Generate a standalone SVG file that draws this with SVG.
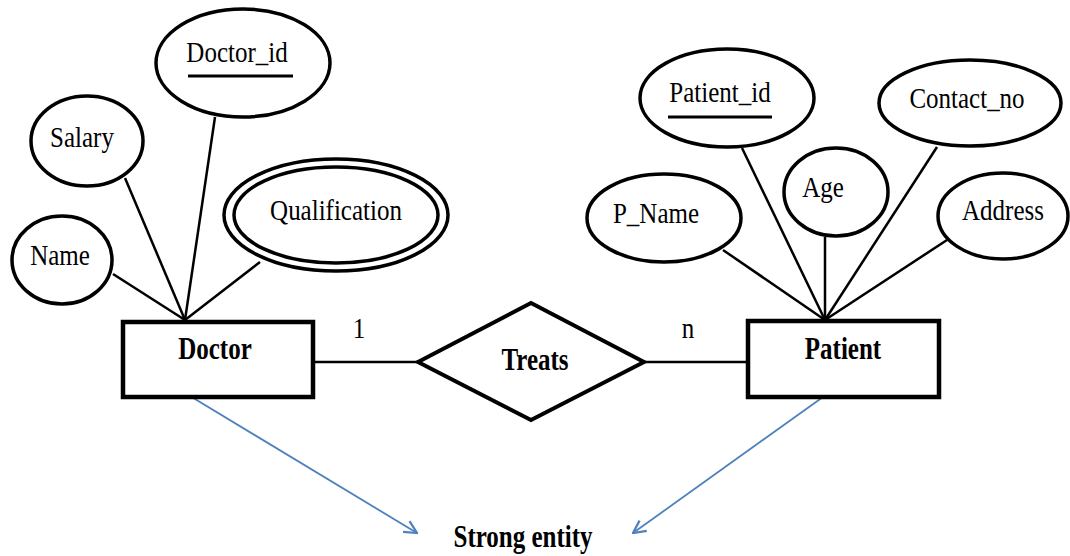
<svg xmlns="http://www.w3.org/2000/svg" width="1070" height="556" viewBox="0 0 1070 556">
  <style>
    .attr { fill: #fff; stroke: #000; stroke-width: 3.5; }
    .entity { fill: #fff; stroke: #000; stroke-width: 4.5; }
    .rel { fill: #fff; stroke: #000; stroke-width: 4; stroke-linejoin: miter; }
    .link { stroke: #000; stroke-width: 2.5; fill: none; }
    .note { stroke: #4f81bd; stroke-width: 1.8; fill: none; }
    .key { stroke: #000; stroke-width: 3; }
    .lbl { font-family: "Liberation Serif", "Times New Roman", Times, serif; font-size: 25px; fill: #000; text-anchor: middle; }
    .bold { font-weight: bold; }
  </style>
  <defs>
    <marker id="open-arrow" viewBox="0 0 12 12" refX="11" refY="6" markerWidth="15" markerHeight="15" markerUnits="userSpaceOnUse" orient="auto">
      <path d="M1,1 L11,6 L1,11" fill="none" stroke="#4f81bd" stroke-width="1.8"/>
    </marker>
  </defs>

  <rect width="1070" height="556" fill="#fff"/>

  <!-- connectors -->
  <g id="connectors">
    <!-- Doctor attributes -->
    <line class="link" x1="113" y1="274" x2="185" y2="320"/>
    <line class="link" x1="125" y1="178" x2="185" y2="320"/>
    <line class="link" x1="215" y1="117" x2="185" y2="320"/>
    <line class="link" x1="260" y1="262" x2="185" y2="320"/>
    <!-- Patient attributes -->
    <line class="link" x1="723" y1="250" x2="825" y2="320"/>
    <line class="link" x1="742" y1="148" x2="825" y2="320"/>
    <line class="link" x1="825" y1="237" x2="825" y2="320"/>
    <line class="link" x1="937" y1="147" x2="825" y2="320"/>
    <line class="link" x1="947" y1="240" x2="825" y2="320"/>
    <!-- relationship -->
    <line class="link" x1="313" y1="362" x2="418" y2="362"/>
    <line class="link" x1="644" y1="362" x2="748" y2="362"/>
    <!-- annotation arrows -->
    <line class="note" x1="190" y1="396" x2="417" y2="533" marker-end="url(#open-arrow)"/>
    <line class="note" x1="823" y1="397" x2="633" y2="533" marker-end="url(#open-arrow)"/>
  </g>

  <!-- Doctor attributes -->
  <g id="attr-doctor-id">
    <ellipse class="attr" cx="243" cy="63" rx="87" ry="54"/>
    <text class="lbl" transform="translate(237 62) scale(1 1.22)">Doctor_id</text>
    <line class="key" x1="188" y1="76" x2="293" y2="76"/>
  </g>
  <g id="attr-salary">
    <ellipse class="attr" cx="87" cy="141" rx="56" ry="45"/>
    <text class="lbl" transform="translate(82 147) scale(1 1.22)">Salary</text>
  </g>
  <g id="attr-name">
    <ellipse class="attr" cx="62" cy="260" rx="50" ry="44"/>
    <text class="lbl" transform="translate(60 265) scale(1 1.22)">Name</text>
  </g>
  <g id="attr-qualification">
    <ellipse class="attr" cx="336" cy="215" rx="112" ry="56"/>
    <ellipse class="attr" cx="336" cy="215" rx="102" ry="48"/>
    <text class="lbl" transform="translate(336 220) scale(1 1.22)">Qualification</text>
  </g>

  <!-- Patient attributes -->
  <g id="attr-patient-id">
    <ellipse class="attr" cx="727" cy="98" rx="87" ry="49"/>
    <text class="lbl" transform="translate(720 102) scale(1 1.22)">Patient_id</text>
    <line class="key" x1="668" y1="117" x2="772" y2="117"/>
  </g>
  <g id="attr-contact-no">
    <ellipse class="attr" cx="970" cy="103" rx="91" ry="43"/>
    <text class="lbl" transform="translate(967 108) scale(1 1.22)">Contact_no</text>
  </g>
  <g id="attr-age">
    <ellipse class="attr" cx="836" cy="192" rx="52" ry="44"/>
    <text class="lbl" transform="translate(823 197) scale(1 1.22)">Age</text>
  </g>
  <g id="attr-p-name">
    <ellipse class="attr" cx="664" cy="218" rx="77" ry="44"/>
    <text class="lbl" transform="translate(656 223) scale(1 1.22)">P_Name</text>
  </g>
  <g id="attr-address">
    <ellipse class="attr" cx="1003" cy="216" rx="65" ry="43"/>
    <text class="lbl" transform="translate(1003 220) scale(1 1.22)">Address</text>
  </g>

  <!-- Entities -->
  <g id="entity-doctor">
    <rect class="entity" x="123" y="322" width="190" height="75"/>
    <text class="lbl bold" transform="translate(215 359) scale(1 1.25)">Doctor</text>
  </g>
  <g id="entity-patient">
    <rect class="entity" x="748" y="321" width="191" height="76"/>
    <text class="lbl bold" transform="translate(843 359) scale(1 1.25)">Patient</text>
  </g>

  <!-- Relationship -->
  <g id="rel-treats">
    <polygon class="rel" points="418,362 531,303 644,362 531,420"/>
    <text class="lbl bold" transform="translate(535 370) scale(1 1.25)">Treats</text>
  </g>

  <!-- Cardinalities -->
  <g id="cardinality-doctor">
    <text class="lbl" transform="translate(359 338) scale(1 1.22)">1</text>
  </g>
  <g id="cardinality-patient">
    <text class="lbl" transform="translate(688 338) scale(1 1.22)">n</text>
  </g>

  <!-- Annotation -->
  <g id="label-strong-entity">
    <text class="lbl bold" transform="translate(523 547) scale(1 1.25)">Strong entity</text>
  </g>
</svg>
